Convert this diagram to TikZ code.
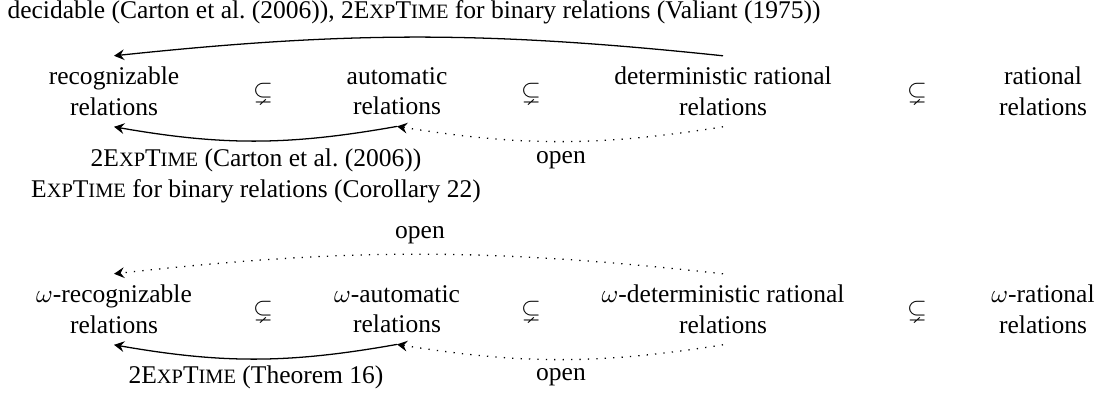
\documentclass[tikz,border=0pt]{standalone}
\usepackage{amssymb}
\usepackage{fontspec}
\newfontfamily\tms{Liberation Serif}
\usetikzlibrary{arrows.meta}
\newcommand\mysc[1]{{\fontsize{8pt}{9pt}\selectfont #1}}
\newcommand\ExpT{E\mysc{XP}T\mysc{IME}}
\begin{document}
\begin{tikzpicture}[x=0.392pt,y=-0.392pt,
  every node/.style={font=\tms},
  cls/.style={align=center, inner sep=4.2pt},
  lbl/.style={align=center, inner sep=0pt},
  inc/.style={inner sep=0pt},
  sarr/.style={-{Stealth[length=4pt,width=4.2pt,inset=1.4pt]}, line width=0.5pt},
  darr/.style={sarr, dash pattern=on 0.5pt off 2.8pt}]
\useasboundingbox (0,0) rectangle (1094,394);
% row 1
\node[cls] (rec) at (114,91.3) {recognizable\\relations};
\node[cls] (aut) at (397,91.3) {automatic\\relations};
\node[cls] (det) at (723,91.3) {deterministic rational\\relations};
\node[cls] (rat) at (1043,91.3) {rational\\relations};
\node[inc] (i1) at (263,93) {$\subsetneq$};
\node[inc] (i2) at (531,93) {$\subsetneq$};
\node[inc] (i3) at (917,93) {$\subsetneq$};
% row 2
\node[cls] (orec) at (114,309.3) {$\omega$-recognizable\\relations};
\node[cls] (oaut) at (397,309.3) {$\omega$-automatic\\relations};
\node[cls] (odet) at (723,309.3) {$\omega$-deterministic rational\\relations};
\node[cls] (orat) at (1043,309.3) {$\omega$-rational\\relations};
\node[inc] (j1) at (263,311) {$\subsetneq$};
\node[inc] (j2) at (531,311) {$\subsetneq$};
\node[inc] (j3) at (917,311) {$\subsetneq$};
% labels
\node[lbl, anchor=base] (t1) at (414,19) {decidable (Carton et al.\ (2006)), 2\ExpT{} for binary relations (Valiant (1975))};
\node[lbl, anchor=north] (t2) at (256,148.3) {2\ExpT{} (Carton et al.\ (2006))\\\ExpT{} for binary relations (Corollary 22)};
\node[lbl, anchor=base] (t3) at (561,163) {open};
\node[lbl, anchor=base] (t4) at (420,238) {open};
\node[lbl, anchor=base] (t5) at (256,383) {2\ExpT{} (Theorem 16)};
\node[lbl, anchor=base] (t6) at (561,380) {open};
% arrows
\draw[sarr] (det.north) to[bend right=6] (rec.north);
\draw[sarr] (aut.south) to[bend left=10] (rec.south);
\draw[darr] (det.south) to[bend left=9] (aut.south);
\draw[darr] (odet.north) to[bend right=6.3] (orec.north);
\draw[sarr] (oaut.south) to[bend left=10] (orec.south);
\draw[darr] (odet.south) to[bend left=9] (oaut.south);
\end{tikzpicture}
\end{document}
